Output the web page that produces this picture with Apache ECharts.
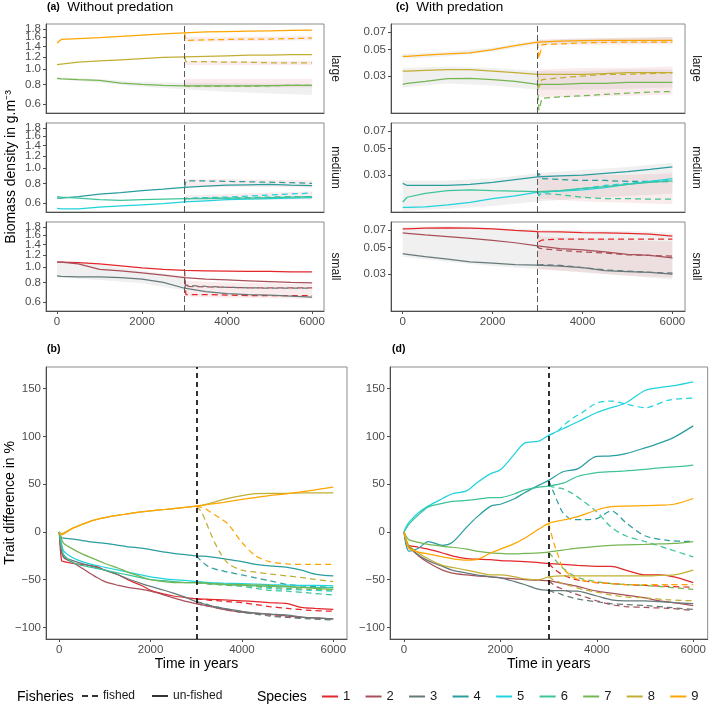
<!DOCTYPE html>
<html><head><meta charset="utf-8">
<script src="https://cdn.jsdelivr.net/npm/echarts@6/dist/echarts.min.js"></script>
<style>html,body{margin:0;padding:0;background:#fff}#c{width:709px;height:709px}</style>
</head><body><div id="c"></div>
<script>
// ================= DATA =================
const speciesNames = ['1','2','3','4','5','6','7','8','9'];
const speciesColors = ['#E3272B','#A8505A','#66797A','#2A9D9F','#20D3DC','#3DC49B','#74B652','#C2AE33','#FFA500'];
const xTicks = [0, 2000, 4000, 6000];
const biomassTicksA = [0.6, 0.8, 1.0, 1.2, 1.4, 1.6, 1.8];
const biomassTicksC = [0.03, 0.05, 0.07];
const traitTicks = [-100, -50, 0, 50, 100, 150];
const sizeClasses = ['large', 'medium', 'small'];

// top panels: time grids
const tTop  = [0,100,500,1000,1500,2000,2500,3000,3500,4000,4500,5000,5500,6000];
const tTopF = [3000,3030,3100,3500,4000,4500,5000,5500,6000];

// (a) without predation — biomass (g.m-3)
const aL9  = [1.47,1.55,1.57,1.59,1.62,1.65,1.68,1.71,1.73,1.74,1.75,1.76,1.77,1.78];
const aL9f = [1.71,1.53,1.53,1.54,1.55,1.56,1.56,1.57,1.58];
const aL8  = [1.07,1.08,1.11,1.13,1.15,1.17,1.19,1.20,1.21,1.22,1.23,1.23,1.24,1.24];
const aL8f = [1.20,1.12,1.12,1.12,1.11,1.11,1.10,1.10,1.10];
const aL7  = [0.875,0.87,0.86,0.85,0.815,0.80,0.79,0.785,0.783,0.783,0.785,0.787,0.79,0.79];
const aL7f = [0.785,0.78,0.78,0.78,0.78,0.78,0.785,0.79,0.79];
const aM4  = [0.645,0.645,0.66,0.685,0.70,0.72,0.735,0.755,0.77,0.78,0.785,0.79,0.78,0.775];
const aM4f = [0.755,0.83,0.83,0.83,0.825,0.82,0.815,0.81,0.80];
const aM5  = [0.555,0.55,0.55,0.565,0.575,0.585,0.595,0.61,0.62,0.63,0.635,0.64,0.645,0.65];
const aM5f = [0.61,0.645,0.645,0.65,0.655,0.665,0.675,0.685,0.695];
const aM6  = [0.66,0.655,0.645,0.63,0.625,0.63,0.635,0.64,0.64,0.645,0.645,0.65,0.655,0.66];
const aM6f = [0.64,0.64,0.64,0.645,0.645,0.65,0.655,0.66,0.66];
const aS1  = [1.08,1.08,1.07,1.05,1.02,0.99,0.97,0.955,0.95,0.945,0.94,0.94,0.935,0.935];
const aS1f = [0.955,0.67,0.67,0.67,0.665,0.66,0.66,0.66,0.66];
const aS2  = [1.08,1.08,1.05,0.97,0.95,0.92,0.89,0.86,0.84,0.83,0.82,0.81,0.80,0.795];
const aS2f = [0.86,0.76,0.755,0.75,0.745,0.74,0.74,0.74,0.74];
const aS3  = [0.88,0.875,0.87,0.87,0.86,0.84,0.80,0.735,0.70,0.68,0.67,0.665,0.655,0.645];
const aS3f = [0.735,0.77,0.765,0.755,0.745,0.74,0.735,0.735,0.735];

// (c) with predation — biomass (g.m-3)
const cL9  = [0.044,0.044,0.045,0.046,0.047,0.050,0.054,0.058,0.059,0.0595,0.06,0.06,0.06,0.06];
const cL9f = [0.058,0.042,0.055,0.056,0.057,0.0575,0.058,0.058,0.058];
const cL8  = [0.033,0.033,0.0335,0.034,0.034,0.033,0.032,0.031,0.031,0.031,0.0315,0.032,0.032,0.032];
const cL8f = [0.031,0.024,0.028,0.029,0.030,0.031,0.031,0.0315,0.032];
const cL7  = [0.0255,0.026,0.027,0.0285,0.0287,0.028,0.027,0.0255,0.0255,0.026,0.026,0.0265,0.0265,0.0265];
const cL7f = [0.0255,0.0155,0.0195,0.020,0.0205,0.021,0.0215,0.022,0.0222];
const cM4  = [0.0255,0.0245,0.0245,0.0245,0.025,0.026,0.0275,0.029,0.0295,0.030,0.031,0.032,0.0335,0.0352];
const cM4f = [0.029,0.031,0.028,0.0275,0.027,0.027,0.0265,0.0265,0.0263];
const cM5  = [0.016,0.016,0.0162,0.0168,0.0177,0.019,0.020,0.0215,0.022,0.0225,0.0235,0.025,0.0265,0.028];
const cM5f = [0.0215,0.020,0.0215,0.022,0.023,0.0245,0.0255,0.0265,0.027];
const cM6  = [0.0178,0.0195,0.021,0.0222,0.0225,0.0222,0.022,0.0218,0.0222,0.0232,0.024,0.025,0.026,0.0268];
const cM6f = [0.0218,0.0205,0.021,0.0205,0.0195,0.019,0.019,0.0188,0.0188];
const cS1  = [0.0718,0.072,0.073,0.0735,0.073,0.072,0.070,0.0683,0.068,0.067,0.0665,0.066,0.065,0.0625];
const cS1f = [0.0683,0.056,0.058,0.059,0.059,0.059,0.059,0.059,0.059];
const cS2  = [0.0665,0.066,0.064,0.062,0.060,0.0575,0.055,0.0517,0.049,0.048,0.046,0.044,0.043,0.041];
const cS2f = [0.0517,0.0495,0.049,0.0475,0.046,0.045,0.0435,0.043,0.0425];
const cS3  = [0.0445,0.044,0.042,0.040,0.038,0.037,0.036,0.0357,0.035,0.034,0.032,0.0315,0.031,0.030];
const cS3f = [0.0357,0.036,0.036,0.0355,0.034,0.0325,0.0318,0.031,0.0305];

// ribbons (lower / upper bounds)
const tRib  = [0,1000,2000,3000,4000,5000,6000];
const tRibP = [0,1000,2000,3000];
const tRibF = [3000,4000,5000,6000];
const rAL7gLo = [0.865,0.82,0.775,0.745,0.72,0.70,0.685], rAL7gHi = [0.89,0.865,0.83,0.82,0.815,0.81,0.805];
const rAL7pLo = [0.765,0.765,0.765,0.765], rAL7pHi = [0.87,0.87,0.87,0.87];
const rAL8pLo = [1.06,1.06,1.06,1.06], rAL8pHi = [1.13,1.13,1.13,1.13];
const rAL9pLo = [1.50,1.51,1.52,1.53], rAL9pHi = [1.60,1.61,1.62,1.63];
const rAM4pLo = [0.76,0.76,0.76,0.755], rAM4pHi = [0.85,0.85,0.845,0.84];
const rAM56pLo = [0.62,0.625,0.63,0.635], rAM56pHi = [0.67,0.685,0.70,0.71];
const rASgLo = [0.86,0.83,0.79,0.71], rASgHi = [1.09,1.04,0.95,0.88];
const rASpLo = [0.65,0.64,0.635,0.63], rASpHi = [0.82,0.80,0.79,0.78];
const rCL9gLo = [0.042,0.044,0.048,0.056,0.057,0.057,0.057], rCL9gHi = [0.046,0.048,0.052,0.060,0.062,0.063,0.064];
const rCL78gLo = [0.024,0.026,0.025,0.023,0.023,0.0235,0.024], rCL78gHi = [0.035,0.036,0.035,0.033,0.033,0.034,0.034];
const rCL9pLo = [0.055,0.055,0.055,0.056], rCL9pHi = [0.061,0.062,0.063,0.064];
const rCL78pLo = [0.020,0.020,0.0205,0.021], rCL78pHi = [0.034,0.035,0.035,0.036];
const rCMgLo = [0.015,0.0155,0.0165,0.018,0.019,0.02,0.021], rCMgHi = [0.027,0.027,0.028,0.031,0.033,0.035,0.038];
const rCMpLo = [0.019,0.018,0.0175,0.017], rCMpHi = [0.030,0.030,0.030,0.031];
const rCSgLo = [0.042,0.038,0.035,0.033,0.031,0.029,0.027], rCSgHi = [0.075,0.076,0.074,0.071,0.07,0.069,0.067];
const rCSpLo = [0.033,0.031,0.029,0.028], rCSpHi = [0.062,0.060,0.058,0.056];

// bottom panels: trait difference (%)
const tBot  = [0,50,100,300,500,800,1000,1300,1500,1800,2000,2300,2500,2800,3000,3300,3600,4000,4300,4600,5000,5300,5600,6000];
const tBotF = [3000,3100,3200,3300,3500,3700,4000,4300,4600,5000,5500,6000];
// (b) without predation
const b1 = [0,-30,-31,-33,-34,-36,-40,-45,-50,-56,-61,-65,-67,-69,-70,-70.5,-71,-72,-73,-74,-75,-79,-80,-81];
const b2 = [0,-20,-27,-32,-38,-47,-52,-56,-58,-60,-62,-66,-69,-73,-75,-78,-81,-84,-85,-86,-88,-89,-90,-91];
const b3 = [0,-20,-26,-30,-33,-37,-40,-45,-49,-54,-57,-61,-64,-69,-73,-77,-80,-83,-85,-86,-87,-89,-90,-91];
const b4 = [0,-6,-6.5,-7.5,-9,-11,-12,-14,-15.5,-17,-18.5,-21,-22.5,-24,-25,-26,-28,-31,-34,-35.5,-37,-40,-44,-46];
const b5 = [0,-12,-20,-27,-31,-35,-37,-40,-42,-45,-47,-49,-50,-51,-52,-53,-53.5,-54,-54.5,-55,-55.5,-56,-56,-56.5];
const b6 = [0,-15,-24,-32,-35,-38,-40,-43,-45,-48,-50,-51,-52,-53,-53,-54,-55,-56,-56.5,-57,-57.5,-58,-58,-58.5];
const b7 = [0,-8,-12,-18,-23,-29,-33,-38,-42,-47,-50,-52,-53,-53,-53,-54,-54.5,-55,-55.5,-56,-57,-58,-59,-60];
const b8 = [0,-2,-1,4,8,13,15,17.5,19,21,22,23.5,24.5,26,27,30,34,38,40,40.5,40.5,41,41,41];
const b9 = [0,-3,-2,4,8,13,15,17.5,19,21,22,23.5,24.5,26,27,29,31,34,36,38,40,42,44,47];
const b1f = [-70,-70.5,-71,-71.5,-72,-73,-74,-76,-78,-80,-82,-83];
const b2f = [-75,-76,-77,-78,-80,-82,-84,-85.5,-87,-89,-90,-91];
const b3f = [-73,-74,-75,-77,-79,-81,-84,-86,-88,-89.5,-91,-92];
const b4f = [-25,-30,-34,-37,-40,-42,-45,-48,-51,-55,-57,-58];
const b5f = [-52,-52.5,-53,-53.5,-54,-54.5,-55,-57,-59,-60,-61,-62];
const b6f = [-53,-53.5,-54,-54.5,-55,-56,-57,-59,-61,-62,-64,-66];
const b7f = [-53,-53.5,-54,-54.5,-55,-55.5,-56,-57,-58,-59,-60,-61];
const b8f = [27,22,12,0,-20,-33,-40,-42,-44,-46,-49,-52];
const b9f = [27,26,24.5,21,15,8,-11,-25,-31,-33.5,-34,-34];
// (d) with predation
const d1 = [0,-12,-14,-16,-18,-22,-25,-28,-28.5,-29,-30,-30.5,-31,-32,-33,-34,-35,-36,-36,-40,-45,-45,-47,-53];
const d2 = [0,-10,-15,-25,-32,-40,-43,-45,-46,-47,-48,-49,-50,-50.5,-51,-54,-57,-62,-64,-66,-69,-72,-74,-77];
const d3 = [0,-10,-15,-24,-30,-36,-40,-43,-45,-47,-48,-52,-55,-60,-61,-61.5,-62,-67,-71,-72,-72,-73,-74,-75];
const d4 = [0,-15,-20,-17,-10,-14,-11,5,15,27,29,35,41,49,54,63,66,79,79.5,82,88,93,99,111];
const d5 = [0,6,10,20,27,35,40,43,51,61,65,82,93,95,101,108,115,125,130,135,148,151,153,157];
const d6 = [0,4,8,18,26,30,32,33,34,36,36,40,44,47,48,51,58,62,63,64,65.5,67,68,70];
const d7 = [0,-5,-8,-11,-13,-15,-16,-18,-20,-22,-22.5,-23,-22.5,-22,-21,-19,-17,-15,-14,-13.5,-13,-12.5,-12,-10];
const d8 = [0,-8,-14,-22,-28,-35,-37,-40,-42,-45,-45,-47,-49,-50,-47,-46,-46,-46,-46,-46,-46,-45.5,-45,-40];
const d9 = [0,-10,-17,-21,-23,-26,-28,-29.5,-29,-22,-18,-12,-6.6,3,9,12.5,16,23,26.5,27,27.5,28,29,35];
const d1f = [-33,-38,-42,-45,-49,-51,-53,-54,-55,-56,-57,-58];
const d2f = [-51,-55,-58,-60,-64,-67,-72,-76,-78,-79,-80,-82];
const d3f = [-61,-63,-64,-66,-69,-71,-73,-75,-76,-77,-79,-81];
const d4f = [54,42,30,20,13,13,14,22,10,-4,-9,-10];
const d5f = [101,103,106,111,119,125,135,137,134,130,138,140];
const d6f = [48,47,46,45,40,33,21,5,-4,-10,-18,-26];
const d7f = [-21,-27,-33,-38,-45,-49,-52,-54,-55,-56,-58,-60];
const d8f = [-47,-50,-52,-54,-57,-60,-63,-66,-68,-69,-71,-72];
const d9f = [9,-10,-25,-38,-47,-51,-53,-54,-55,-55,-55,-55];

// ================= BUILD =================
const FONT = '"Liberation Sans", Arial, Helvetica, sans-serif';
const GREY_RIB = 'rgba(140,140,140,0.13)';
const PINK_RIB = 'rgba(215,110,110,0.13)';
const log10 = v => Math.log10(v);
const ident = v => v;

const gridBoxes = [
  {left:46, top:24, width:278, height:89},
  {left:46, top:123, width:278, height:89},
  {left:46, top:222, width:278, height:89},
  {left:391, top:24, width:294, height:89},
  {left:391, top:123, width:294, height:89},
  {left:391, top:222, width:294, height:89},
  {left:46, top:367, width:301, height:272},
  {left:390, top:367, width:318, height:272}
];
const grid = gridBoxes.map(g => Object.assign({show:true, borderColor:'#8c8c8c', borderWidth:1, backgroundColor:'#fff', containLabel:false}, g));

const minus = s => s.replace('-', '\u2212');
const xAxis = gridBoxes.map((g, i) => {
  const labelled = (i === 2 || i === 5 || i === 6 || i === 7);
  const top = i < 6;
  return {
    type:'value', gridIndex:i, min: top ? -260 : -290, max: top ? 6280 : 6300,
    axisLine:{show:true, onZero:false, lineStyle:{color:'#4d4d4d', width:1}},
    splitLine:{show:false},
    axisTick:{show:labelled, length:3, customValues:xTicks, lineStyle:{color:'#4d4d4d'}},
    axisLabel:{show:labelled, customValues:xTicks, formatter: v => String(Math.round(v)),
      color:'#4d4d4d', fontSize:11.5, margin:5, fontFamily:FONT, hideOverlap:false},
    name: i >= 6 ? 'Time in years' : '', nameLocation:'middle', nameGap:18,
    nameTextStyle:{fontSize:14, color:'#000', fontFamily:FONT}
  };
});
const A_MIN = -0.279, A_MAX = 0.289;
// crowded log ticks of (a) are split over two axes so none get auto-hidden
const ticksAEven = biomassTicksA.filter((_, k) => k % 2 === 0).map(log10);  // 0.6 1.0 1.4 1.8
const ticksAOdd  = biomassTicksA.filter((_, k) => k % 2 === 1).map(log10);  // 0.8 1.2 1.6
const fmtA = v => Math.pow(10, v).toFixed(1);
const yAxis = gridBoxes.map((g, i) => {
  let ticks, fmt, min, max;
  if (i < 3) { ticks = ticksAEven; fmt = fmtA; min = A_MIN; max = A_MAX; }
  else if (i < 6) { ticks = biomassTicksC.map(log10); fmt = v => Math.pow(10, v).toFixed(2); min = -1.834; max = -1.085; }
  else { ticks = traitTicks; fmt = v => minus(String(Math.round(v))); min = -112; max = 172.6; }
  return {
    type:'value', gridIndex:i, min:min, max:max, position:'left',
    axisLine:{show:true, onZero:false, lineStyle:{color:'#4d4d4d', width:1}},
    splitLine:{show:false},
    axisTick:{show:true, length:3, customValues:ticks, lineStyle:{color:'#4d4d4d'}},
    axisLabel:{customValues:ticks, formatter:fmt, color:'#4d4d4d', fontSize:11.5, margin:5, fontFamily:FONT,
      hideOverlap:false, showMinLabel:true, showMaxLabel:true}
  };
});
[0, 1, 2].forEach(i => {
  yAxis.push({
    type:'value', gridIndex:i, min:A_MIN, max:A_MAX, position:'left', offset:0,
    axisLine:{show:false, onZero:false}, splitLine:{show:false},
    axisTick:{show:true, length:3, customValues:ticksAOdd, lineStyle:{color:'#4d4d4d'}},
    axisLabel:{customValues:ticksAOdd, formatter:fmtA, color:'#4d4d4d', fontSize:11.5, margin:5, fontFamily:FONT,
      hideOverlap:false, showMinLabel:true, showMaxLabel:true}
  });
});

const series = [];
function ribbon(gi, t, lo, hi, color, tf) {
  series.push({
    type:'custom', name:'ribbon', xAxisIndex:gi, yAxisIndex:gi, silent:true, z:1, clip:true,
    data:[[t[0], tf(lo[0])]],
    renderItem:(params, api) => {
      const pts = [];
      for (let k = 0; k < t.length; k++) pts.push(api.coord([t[k], tf(hi[k])]));
      for (let k = t.length - 1; k >= 0; k--) pts.push(api.coord([t[k], tf(lo[k])]));
      return {type:'polygon', shape:{points:pts}, style:{fill:color}};
    }
  });
}
function line(gi, sp, t, v, dashed, tf, smooth, withMark, bottom) {
  const col = speciesColors[sp - 1];
  const s = {
    type:'line', name:speciesNames[sp - 1], xAxisIndex:gi, yAxisIndex:gi, z:2,
    showSymbol:false, symbol:'none', smooth:smooth, silent:true,
    color:col, itemStyle:{color:col},
    lineStyle:{color:col, width:1.25, type: dashed ? [6,4] : 'solid'},
    data: t.map((x, k) => [x, tf(v[k])])
  };
  if (withMark) {
    s.markLine = {silent:true, symbol:'none', label:{show:false}, animation:false,
      lineStyle: bottom ? {color:'#000', width:1.6, type:[5,4]} : {color:'#5a5a5a', width:1, type:[6,3]},
      data:[{xAxis:3000}]};
  }
  series.push(s);
}

// ribbons
ribbon(0, tRib, rAL7gLo, rAL7gHi, GREY_RIB, log10);
ribbon(0, tRibF, rAL7pLo, rAL7pHi, PINK_RIB, log10);
ribbon(0, tRibF, rAL8pLo, rAL8pHi, PINK_RIB, log10);
ribbon(0, tRibF, rAL9pLo, rAL9pHi, PINK_RIB, log10);
ribbon(1, tRibF, rAM4pLo, rAM4pHi, PINK_RIB, log10);
ribbon(1, tRibF, rAM56pLo, rAM56pHi, PINK_RIB, log10);
ribbon(2, tRibP, rASgLo, rASgHi, GREY_RIB, log10);
ribbon(2, tRibF, rASpLo, rASpHi, PINK_RIB, log10);
ribbon(3, tRib, rCL9gLo, rCL9gHi, GREY_RIB, log10);
ribbon(3, tRib, rCL78gLo, rCL78gHi, GREY_RIB, log10);
ribbon(3, tRibF, rCL9pLo, rCL9pHi, PINK_RIB, log10);
ribbon(3, tRibF, rCL78pLo, rCL78pHi, PINK_RIB, log10);
ribbon(4, tRib, rCMgLo, rCMgHi, GREY_RIB, log10);
ribbon(4, tRibF, rCMpLo, rCMpHi, PINK_RIB, log10);
ribbon(5, tRib, rCSgLo, rCSgHi, GREY_RIB, log10);
ribbon(5, tRibF, rCSpLo, rCSpHi, PINK_RIB, log10);

// top panels
const topPanels = [
  [0, [[7, aL7, aL7f], [8, aL8, aL8f], [9, aL9, aL9f]]],
  [1, [[4, aM4, aM4f], [5, aM5, aM5f], [6, aM6, aM6f]]],
  [2, [[1, aS1, aS1f], [2, aS2, aS2f], [3, aS3, aS3f]]],
  [3, [[7, cL7, cL7f], [8, cL8, cL8f], [9, cL9, cL9f]]],
  [4, [[4, cM4, cM4f], [5, cM5, cM5f], [6, cM6, cM6f]]],
  [5, [[1, cS1, cS1f], [2, cS2, cS2f], [3, cS3, cS3f]]]
];
topPanels.forEach(([gi, list]) => {
  list.forEach(([sp, u, f], j) => {
    line(gi, sp, tTop, u, false, log10, false, j === 0, false);
    line(gi, sp, tTopF, f, true, log10, false, false, false);
  });
});
// bottom panels
const bottomPanels = [
  [6, [[1,b1,b1f],[2,b2,b2f],[3,b3,b3f],[4,b4,b4f],[5,b5,b5f],[6,b6,b6f],[7,b7,b7f],[8,b8,b8f],[9,b9,b9f]]],
  [7, [[1,d1,d1f],[2,d2,d2f],[3,d3,d3f],[4,d4,d4f],[5,d5,d5f],[6,d6,d6f],[7,d7,d7f],[8,d8,d8f],[9,d9,d9f]]]
];
bottomPanels.forEach(([gi, list]) => {
  list.forEach(([sp, u, f], j) => {
    line(gi, sp, tBot, u, false, ident, 0.3, j === 0, true);
    line(gi, sp, tBotF, f, true, ident, 0.3, false, true);
  });
});
// legend-only series for line type
series.push({type:'line', name:'fished', xAxisIndex:0, yAxisIndex:0, data:[], color:'#333', itemStyle:{color:'#333'}, lineStyle:{color:'#333', type:[6,4]}});
series.push({type:'line', name:'un-fished', xAxisIndex:0, yAxisIndex:0, data:[], color:'#333', itemStyle:{color:'#333'}, lineStyle:{color:'#333'}});

const titleStyle = {fontSize:13.5, fontWeight:'normal', color:'#000', fontFamily:FONT,
  rich:{b:{fontSize:10.5, fontWeight:'bold', color:'#000', fontFamily:FONT}}};
const title = [
  {text:'{b|(a)}  Without predation', left:47, top:0, padding:0, textStyle:titleStyle},
  {text:'{b|(c)}  With predation', left:396, top:0, padding:0, textStyle:titleStyle},
  {text:'{b|(b)}', left:47, top:344, padding:0, textStyle:titleStyle},
  {text:'{b|(d)}', left:392, top:344, padding:0, textStyle:titleStyle}
];

const graphic = [];
sizeClasses.forEach((name, k) => {
  const cy = gridBoxes[k].top + gridBoxes[k].height / 2;
  graphic.push({type:'text', x:335, y:cy, rotation:-Math.PI/2, silent:true,
    style:{text:name, fontSize:12, fill:'#1a1a1a', align:'center', verticalAlign:'middle', fontFamily:FONT}});
  graphic.push({type:'text', x:696, y:cy, rotation:-Math.PI/2, silent:true,
    style:{text:name, fontSize:12, fill:'#1a1a1a', align:'center', verticalAlign:'middle', fontFamily:FONT}});
});
graphic.push({type:'text', x:11, y:167, rotation:Math.PI/2, silent:true,
  style:{text:'Biomass density in g.m\u207B\u00B3', fontSize:14, fill:'#000', align:'center', verticalAlign:'middle', fontFamily:FONT}});
graphic.push({type:'text', x:10, y:503, rotation:Math.PI/2, silent:true,
  style:{text:'Trait difference in %', fontSize:14, fill:'#000', align:'center', verticalAlign:'middle', fontFamily:FONT}});
graphic.push({type:'text', x:17, y:697, silent:true,
  style:{text:'Fisheries', fontSize:14, fill:'#000', align:'left', verticalAlign:'middle', fontFamily:FONT}});
graphic.push({type:'text', x:257, y:697, silent:true,
  style:{text:'Species', fontSize:14, fill:'#000', align:'left', verticalAlign:'middle', fontFamily:FONT}});

const legend = [
  {data:[{name:'fished', icon:'path://M0,0h6v2h-6zM10,0h6v2h-6z'}, {name:'un-fished', icon:'rect'}],
   left:82, top:690, padding:0, itemWidth:16, itemHeight:2, itemGap:17, symbolKeepAspect:false, selectedMode:false,
   textStyle:{fontSize:12, color:'#1a1a1a', fontFamily:FONT}},
  {data:speciesNames.map(n => ({name:n, icon:'rect'})),
   left:322, top:690, padding:0, itemWidth:16, itemHeight:2, itemGap:15.3, symbolKeepAspect:false, selectedMode:false,
   textStyle:{fontSize:13, color:'#1a1a1a', fontFamily:FONT}}
];

const chart = echarts.init(document.getElementById('c'), null, {renderer:'canvas'});
chart.setOption({
  animation:false, backgroundColor:'#fff', textStyle:{fontFamily:FONT},
  title, grid, xAxis, yAxis, series, legend, graphic
});
</script>
</body></html>
